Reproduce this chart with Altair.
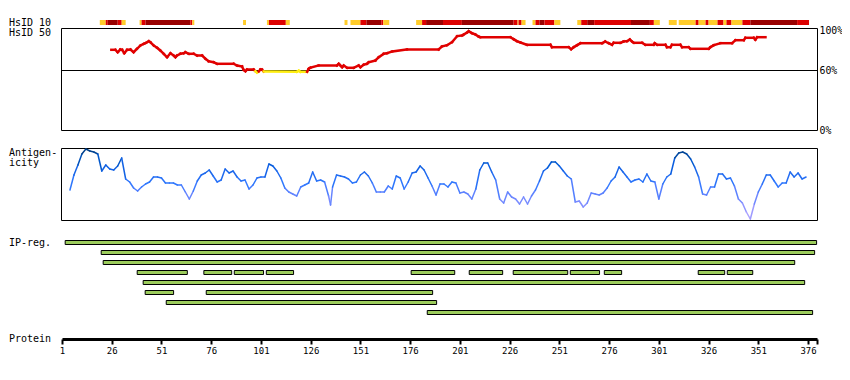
import altair as alt
import pandas as pd

FONT = "DejaVu Sans Mono"
W, H = 755, 331

# ---- protein axis ----
TICKS = [1, 26, 51, 76, 101, 126, 151, 176, 201, 226, 251, 276, 301, 326, 351, 376]
SEQ_END = 380.5

# ---- HsID 10 strip: segments (residue start/end) and identity class ----
hs10_start = [20, 23, 24, 29, 31, 40, 41, 43, 65.5, 66.5, 92, 104, 105, 113.5, 143,
              146, 151, 154, 161.5, 162.5, 179, 182, 184, 192.5, 202, 228, 230, 230.5, 232,
              237.5, 239, 241, 243.5, 248.5, 260, 262, 265, 268.5, 287, 296.5, 298.5, 306,
              311, 319.5, 321, 324.5, 326, 330.5, 333.5, 335, 337.5, 343, 347, 370.5]
hs10_end = [23, 24, 29, 31, 33, 41, 43, 65.5, 66.5, 67.5, 93.5, 105, 113.5, 115.5, 144.5,
            151, 154, 161.5, 162.5, 165.5, 182, 184, 192.5, 202, 228, 230, 230.5, 232, 234,
            239, 241, 243.5, 248.5, 251.5, 262, 265, 268.5, 287, 296.5, 298.5, 301.5, 310,
            319.5, 321, 324.5, 326, 330.5, 333.5, 335, 337.5, 343, 347, 370.5, 376.5]
hs10_level = ["low", "mid", "high", "mid", "low",
              "low", "mid", "high", "mid", "low",
              "low",
              "low", "mid", "low",
              "low",
              "low", "mid", "high", "mid", "low",
              "low", "mid", "high", "mid", "high", "mid", "low", "mid", "low",
              "low", "mid", "high", "mid", "low",
              "low", "mid", "high", "mid", "high", "mid", "low",
              "low",
              "low", "mid", "low", "mid", "low", "mid", "low", "mid", "low", "mid", "high", "mid"]

# ---- HsID 50 profile (%) ----
hs50_res = [25.8, 27.8, 29.0, 30.3, 31.2, 32.3, 33.7, 35.4, 37.0, 38.7, 40.4, 42.1, 43.2, 44.6,
            45.4, 47.1, 48.8, 50.4, 52.1, 53.8, 55.5, 57.1, 58.0, 58.8, 60.5, 62.2, 63.0, 64.7,
            67.2, 68.9, 71.4, 73.1, 74.7, 77.2, 78.9, 87.3, 89.0, 91.5, 92.3, 93.2, 94.0, 97.3,
            98.2, 99.0, 99.9, 100.7, 101.5, 102.4, 119.1, 120.0, 120.8, 124.2, 125.0, 125.8,
            130.0, 139.2, 140.1, 140.9, 141.8, 142.6, 144.3, 147.6, 150.1, 151.0, 152.6, 154.3,
            155.2, 158.5, 160.2, 162.7, 164.4, 166.9, 174.4, 190.3, 192.0, 194.5, 197.0, 199.6,
            202.1, 202.9, 204.6, 205.4, 207.1, 208.8, 210.4, 211.3, 226.4, 228.0, 229.7, 231.4,
            234.7, 246.5, 247.3, 255.7, 256.9, 258.2, 259.9, 261.6, 272.5, 274.1, 275.8, 277.5,
            278.3, 281.7, 283.3, 285.0, 286.4, 287.5, 288.4, 292.6, 294.2, 298.4, 298.9, 300.1,
            304.3, 305.1, 306.8, 307.6, 311.8, 312.7, 316.0, 316.9, 326.1, 326.9, 328.6, 331.9,
            337.8, 339.5, 343.7, 344.5, 348.7, 349.5, 350.4, 354.6]
hs50_pct = [80.7, 80.7, 78.3, 81.0, 80.7, 77.3, 80.7, 81.0, 78.3, 81.7, 85.0, 86.7, 87.7, 89.3,
            88.3, 85.0, 82.7, 80.0, 76.7, 73.3, 77.3, 75.0, 73.3, 75.0, 76.7, 77.3, 78.3, 76.7,
            76.7, 75.0, 75.0, 71.7, 69.3, 68.3, 66.7, 66.7, 65.0, 64.0, 60.7, 59.3, 61.0, 61.0,
            59.3, 58.0, 59.0, 61.0, 61.0, 59.0, 58.7, 59.7, 58.7, 58.7, 61.7, 62.7,
            65.0, 65.0, 66.7, 65.0, 63.3, 65.0, 62.7, 62.7, 65.0, 63.3, 65.7, 66.7,
            68.3, 70.0, 73.3, 76.7, 77.3, 79.0, 81.0, 81.0, 84.0, 85.3, 88.3, 94.3,
            95.0, 96.0, 98.0, 99.3, 97.3, 96.0, 94.0, 93.3, 93.3, 91.3, 89.3, 88.0,
            85.7, 85.7, 83.3, 83.3, 81.3, 83.3, 85.3, 87.3, 87.3, 89.0, 87.3, 85.7,
            87.7, 87.7, 89.0, 89.3, 91.0, 89.0, 87.7, 87.7, 85.7, 85.7, 87.3, 85.7,
            85.7, 83.3, 83.3, 85.7, 85.7, 83.3, 83.3, 81.7, 81.7, 83.3, 85.3, 87.3,
            87.3, 90.3, 90.3, 92.7, 92.7, 90.7, 93.3, 93.3]

# ---- Antigenicity profile (relative score, 0-72) ----
ag_res = list(range(5, 136, 2)) + [136] + list(range(137, 376, 2))
ag_val = [30, 45, 55, 66, 71, 69, 68, 66, 49, 55, 51, 50, 54, 62, 41, 38, 32, 29, 33, 36,
          38, 43, 43, 42, 37, 37, 37, 35, 35, 28, 21, 29, 39, 45, 47, 50, 44, 38, 40, 51,
          47, 49, 43, 39, 40, 31, 35, 42, 43, 43, 56, 54, 49, 42, 32, 28, 26, 24, 33, 35,
          37, 48, 39, 40, 38, 24, 15, 33, 45, 44, 43, 41, 37, 38, 45, 48, 44, 37, 28, 28,
          28, 34, 31, 44, 42, 31, 38, 47, 48, 54, 50, 42, 34, 25, 36, 36, 33, 38, 37, 27,
          28, 26, 21, 31, 50, 57, 57, 48, 40, 21, 17, 28, 23, 21, 16, 23, 16, 24, 30, 39,
          49, 52, 58, 58, 54, 49, 44, 41, 18, 19, 13, 17, 27, 26, 25, 27, 32, 39, 43, 53,
          48, 43, 38, 40, 41, 38, 46, 39, 38, 21, 36, 43, 46, 62, 67, 68, 66, 61, 53, 43,
          26, 25, 33, 33, 46, 46, 41, 42, 34, 21, 17, 8, 1, 16, 28, 36, 45, 45, 39, 33,
          37, 37, 48, 43, 47, 41, 43]

# ---- IP regions ----
ip_row = [1, 2, 3, 4, 4, 4, 4, 4, 4, 4, 4, 4, 4, 4, 5, 6, 6, 7, 8]
ip_start = [2.6, 20.7, 21.7, 38.8, 72.3, 87.6, 103.7, 176.5, 205.7, 227.8, 256.5, 273.6,
            320.8, 335.4, 41.8, 42.8, 73.5, 53.4, 184.6]
ip_end = [380.3, 379.3, 369.3, 64.0, 86.3, 102.3, 117.4, 198.4, 222.5, 255.2, 271.2, 282.3,
          334.1, 348.2, 374.3, 57.1, 187.3, 189.3, 378.3]

# ---- tables built from the arrays ----
n = min(len(hs50_res), len(hs50_pct))
hs50 = pd.DataFrame({
    "x0": hs50_res[:n - 1], "x1": hs50_res[1:n],
    "y0": hs50_pct[:n - 1], "y1": hs50_pct[1:n],
})
hs50["band"] = ["above" if (a + b) / 2 >= 60 else "below" for a, b in zip(hs50["y0"], hs50["y1"])]

m = min(len(ag_res), len(ag_val))
ag = pd.DataFrame({
    "x0": ag_res[:m - 1], "x1": ag_res[1:m],
    "y0": ag_val[:m - 1], "y1": ag_val[1:m],
})
ag["v"] = (ag["y0"] + ag["y1"]) / 2

strip = pd.DataFrame({"s": hs10_start, "e": hs10_end, "lvl": hs10_level})
ip = pd.DataFrame({"row": ip_row, "s": ip_start, "e": ip_end})
one = pd.DataFrame({"k": [0]})

XS = alt.Scale(domain=[1, SEQ_END], nice=False, zero=False)
XAX = alt.Axis(values=TICKS + [SEQ_END], labelExpr="datum.value > 377 ? '' : datum.label",
               title=None, grid=False, orient="bottom", domainWidth=3, domainColor="black",
               tickWidth=2, tickSize=5, tickColor="black", labelFont=FONT, labelFontSize=9,
               labelColor="black", labelFlush=False, labelOverlap=False, labelPadding=2)

HS_Y = alt.Scale(domain=[0, 100], range=[122.5, 22.5], nice=False, zero=False)
AG_Y = alt.Scale(domain=[0, 72], range=[212, 140], nice=False, zero=False)
IP_Y = alt.Scale(domain=[1, 8], range=[234.5, 304.5], nice=False, zero=False)


def frame(y0, y1):
    return alt.Chart(one).mark_rect(fill="transparent", stroke="black", strokeWidth=1).encode(
        x=alt.value(-0.5), x2=alt.value(W + 0.5), y=alt.value(y0), y2=alt.value(y1))


def label(txt, y):
    return alt.Chart(one).mark_text(text=txt, align="left", baseline="middle", font=FONT,
                                    fontSize=10, color="black").encode(
        x=alt.value(-53), y=alt.value(y))


strip_layer = alt.Chart(strip).mark_rect().encode(
    x=alt.X("s:Q", scale=XS, axis=XAX), x2="e:Q",
    y=alt.value(12), y2=alt.value(17),
    color=alt.Color("lvl:N", scale=alt.Scale(domain=["low", "mid", "high"],
                                             range=["#ffcc2a", "#dd0000", "#990000"]), legend=None),
)

rule60 = alt.Chart(one).mark_rule(color="black", strokeWidth=1).encode(
    x=alt.value(-0.5), x2=alt.value(W + 0.5),
    y=alt.YDatum(60, scale=HS_Y, axis=None),
)

hs_line = alt.Chart(hs50).mark_rule(strokeWidth=2.5, strokeCap="square").encode(
    x=alt.X("x0:Q", scale=XS, axis=XAX), x2="x1:Q",
    y=alt.Y("y0:Q", scale=HS_Y,
            axis=alt.Axis(orient="right", values=[0, 60, 100], labelExpr="datum.value + '%'",
                          ticks=False, domain=False, grid=False, title=None, labelFont=FONT,
                          labelFontSize=9.8, labelColor="black", labelPadding=2)),
    y2="y1:Q",
    color=alt.Color("band:N", scale=alt.Scale(domain=["above", "below"],
                                              range=["#e00000", "#ffee11"]), legend=None),
)

ag_line = alt.Chart(ag).mark_rule(strokeWidth=1.5, strokeCap="round").encode(
    x=alt.X("x0:Q", scale=XS, axis=XAX), x2="x1:Q",
    y=alt.Y("y0:Q", scale=AG_Y, axis=None), y2="y1:Q",
    color=alt.Color("v:Q", scale=alt.Scale(domain=[0, 18, 36, 54, 72],
                                           range=["#b8aaff", "#7a8cff", "#2f78ff", "#0a5ee0", "#003a7a"]),
                    legend=None),
)

ip_layer = alt.Chart(ip).transform_calculate(
    r0="datum.row - 0.2", r1="datum.row + 0.2"
).mark_rect(fill="#9ccc5c", stroke="black", strokeWidth=1).encode(
    x=alt.X("s:Q", scale=XS, axis=XAX), x2="e:Q",
    y=alt.Y("r0:Q", scale=IP_Y, axis=None), y2="r1:Q",
)

chart = alt.layer(
    strip_layer,
    frame(20.5, 122.5),
    rule60,
    hs_line,
    frame(140.5, 212.5),
    ag_line,
    ip_layer,
    label("HsID 10", 14.5),
    label("HsID 50", 24.5),
    label("Antigen-", 145),
    label("icity", 155),
    label("IP-reg.", 235),
    label("Protein", 331),
).resolve_scale(
    y="independent", color="independent"
).properties(
    width=W, height=H,
    padding={"left": 54, "top": 0, "right": 25, "bottom": 26},
    autosize=alt.AutoSizeParams(type="none"),
    background="white",
).configure_view(stroke="transparent")

chart.save("out.html", embed_options={"renderer": "svg", "actions": False})
